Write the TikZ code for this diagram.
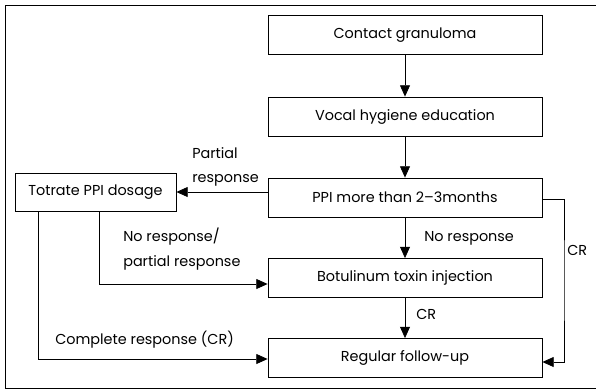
\documentclass[tikz,border=0pt]{standalone}
\usepackage{fontspec}
\setmainfont{Poppins}
\usepackage{tikz}
\usetikzlibrary{arrows.meta,positioning,calc}

\begin{document}
\begin{tikzpicture}[
    x=0.75pt, y=-0.75pt,
    font=\fontsize{10.8}{18.5}\selectfont,
    box/.style={draw, rectangle, minimum width=205.5pt, minimum height=29.25pt, align=center, line width=0.6pt},
    sidebox/.style={draw, rectangle, minimum width=120.75pt, minimum height=28.5pt, align=center, line width=0.6pt},
    arr/.style={-{Triangle[length=8.5pt,width=7.5pt]}, line width=0.6pt},
    lbl/.style={align=left, inner sep=0pt},
  ]
    \useasboundingbox (0,0) rectangle (596,390);
    \draw[line width=0.6pt] (596,5) -| (5,388) -- (596,388);

    \node[box] (granuloma) at (405,35) {Contact granuloma};
    \node[box] (hygiene) at (405,116.5) {Vocal hygiene education};
    \node[box] (ppi) at (405,197.5) {PPI more than 2--3months};
    \node[box] (botox) at (405,278) {Botulinum toxin injection};
    \node[box] (followup) at (405,358) {Regular follow-up};
    \node[sidebox] (titrate) at (95.5,192) {Totrate PPI dosage};

    \draw[arr] (granuloma) -- (hygiene);
    \draw[arr] (hygiene) -- (ppi);
    \draw[arr] (ppi) -- (botox);
    \draw[arr] (botox) -- (followup);
    \draw[arr] (titrate -| ppi.west) -- (titrate.east);
    \draw[arr] ($(titrate.south west)+(85,0)$) |- ($(botox.west)+(0,6)$);
    \draw[arr] ($(titrate.south west)+(24,0)$) |- ($(followup.west)+(0,1)$);
    \draw[arr] ($(ppi.east)+(0,1.5)$) -| (564,280) |- ($(followup.east)+(0,4)$);

    % labels
    \node[lbl, anchor=west] at (192,167) {Partial\\response};
    \node[lbl, anchor=west] at (123,249) {No response/\\partial response};
    \node[lbl, anchor=west] at (55,340) {Complete response (CR)};
    \node[lbl, anchor=west] at (424,238) {No response};
    \node[lbl, anchor=west] at (416,314) {CR};
    \node[lbl, anchor=west] at (567,250) {CR};
\end{tikzpicture}
\end{document}
